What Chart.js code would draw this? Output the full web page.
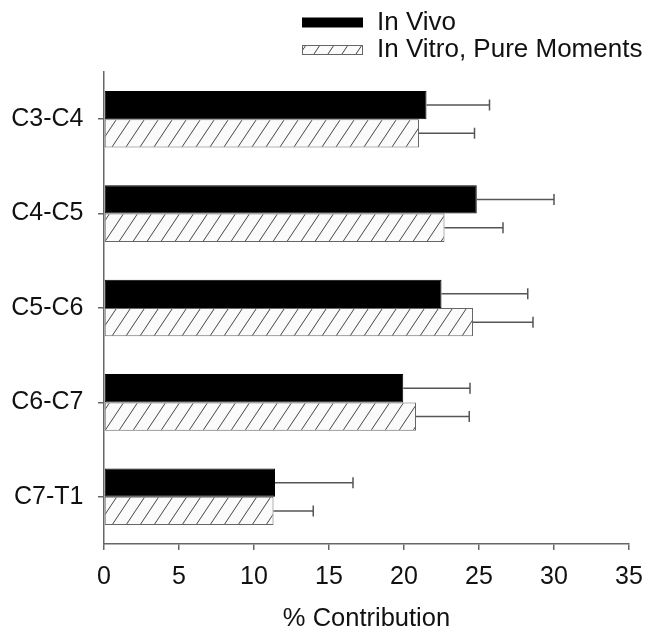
<!DOCTYPE html>
<html>
<head>
<meta charset="utf-8">
<script src="https://cdn.jsdelivr.net/npm/chart.js@4.4.1/dist/chart.umd.min.js"></script>
<style>
  html, body { margin: 0; padding: 0; background: #fff; }
  #wrap { width: 650px; height: 635px; }
</style>
</head>
<body>
<div id="wrap"><canvas id="contribChart" width="650" height="635"></canvas></div>
<script>
// 데이터
const segments = ['C3-C4', 'C4-C5', 'C5-C6', 'C6-C7', 'C7-T1'];
const inVivo = [21.5, 24.85, 22.5, 19.95, 11.4];
const inVivoErr = [4.2, 5.15, 5.75, 4.45, 5.2];
const inVitro = [21.0, 22.7, 24.6, 20.8, 11.3];
const inVitroErr = [3.7, 3.9, 4.0, 3.55, 2.65];
const xTicks = [0, 5, 10, 15, 20, 25, 30, 35];

// 빗금 패턴
function makeHatch() {
    const w = 14, h = 21;
    const c = document.createElement('canvas');
    c.width = w; c.height = h;
    const g = c.getContext('2d');
    g.fillStyle = '#fbfbfb';
    g.fillRect(0, 0, w, h);
    g.strokeStyle = '#444';
    g.lineWidth = 1;
    [-w, 0, w].forEach(dx => {
        g.beginPath();
        g.moveTo(dx - 1, h + 1.5);
        g.lineTo(dx + w + 1, -1.5);
        g.stroke();
    });
    return g.createPattern(c, 'repeat');
}
const hatch = makeHatch();

// 오차 막대
const errorBars = {
    id: 'errorBars',
    afterDatasetsDraw(chart) {
        const ctx = chart.ctx;
        const xs = chart.scales.x;
        ctx.save();
        ctx.strokeStyle = '#555';
        ctx.lineWidth = 1.5;
        chart.data.datasets.forEach((ds, di) => {
            const meta = chart.getDatasetMeta(di);
            meta.data.forEach((bar, i) => {
                const end = xs.getPixelForValue(ds.data[i] + ds.errors[i]);
                ctx.beginPath();
                ctx.moveTo(bar.x, bar.y);
                ctx.lineTo(end, bar.y);
                ctx.moveTo(end, bar.y - 5.5);
                ctx.lineTo(end, bar.y + 5.5);
                ctx.stroke();
            });
        });
        ctx.restore();
    }
};

// 범례
const topLegend = {
    id: 'topLegend',
    afterDraw(chart) {
        const ctx = chart.ctx;
        ctx.save();
        ctx.font = '26px "Liberation Sans", Arial, sans-serif';
        ctx.textBaseline = 'middle';
        chart.data.datasets.forEach((ds, i) => {
            const y = 22.5 + i * 27.5;
            ctx.fillStyle = ds.backgroundColor;
            ctx.fillRect(302, y - 4.5, 60, 9);
            ctx.strokeStyle = ds.borderColor;
            ctx.lineWidth = 1;
            ctx.strokeRect(302.5, y - 4.5, 60, 9);
            ctx.fillStyle = '#111';
            ctx.fillText(ds.label, 377, y);
        });
        ctx.restore();
    }
};

Chart.defaults.font.family = '"Liberation Sans", Arial, sans-serif';
Chart.defaults.font.size = 25;
Chart.defaults.color = '#111';

new Chart(document.getElementById('contribChart'), {
    type: 'bar',
    data: {
        labels: segments,
        datasets: [{
            label: 'In Vivo',
            data: inVivo,
            errors: inVivoErr,
            backgroundColor: '#000',
            borderColor: '#000',
            borderWidth: 1,
            borderSkipped: false
        }, {
            label: 'In Vitro, Pure Moments',
            data: inVitro,
            errors: inVitroErr,
            backgroundColor: hatch,
            borderColor: '#666',
            borderWidth: 1,
            borderSkipped: false
        }]
    },
    options: {
        indexAxis: 'y',
        responsive: false,
        animation: false,
        categoryPercentage: 0.6,
        barPercentage: 1.0,
        layout: { padding: { top: 72, right: 21, left: 0, bottom: 0 } },
        plugins: {
            legend: { display: false },
            tooltip: { enabled: false }
        },
        scales: {
            x: {
                min: 0,
                max: 35,
                afterBuildTicks: s => { s.ticks = xTicks.map(v => ({ value: v })); },
                afterFit: s => {
                    s.height = 91;
                    s.paddingLeft = 0;
                    s.paddingRight = 0;
                },
                ticks: { padding: 12, color: '#111' },
                grid: { drawOnChartArea: false, tickLength: 6, color: '#666', lineWidth: 1.5 },
                border: { color: '#666', width: 1.5 },
                title: {
                    display: true,
                    text: '% Contribution',
                    color: '#111',
                    font: { size: 25.5 },
                    padding: { top: 0, bottom: 1 }
                }
            },
            y: {
                afterFit: s => { s.width = 104; },
                ticks: { padding: 14.5, color: '#111' },
                grid: { drawOnChartArea: false, offset: false, tickLength: 6, color: '#666', lineWidth: 1.5 },
                border: { color: '#666', width: 1.5 }
            }
        }
    },
    plugins: [errorBars, topLegend]
});
</script>
</body>
</html>
